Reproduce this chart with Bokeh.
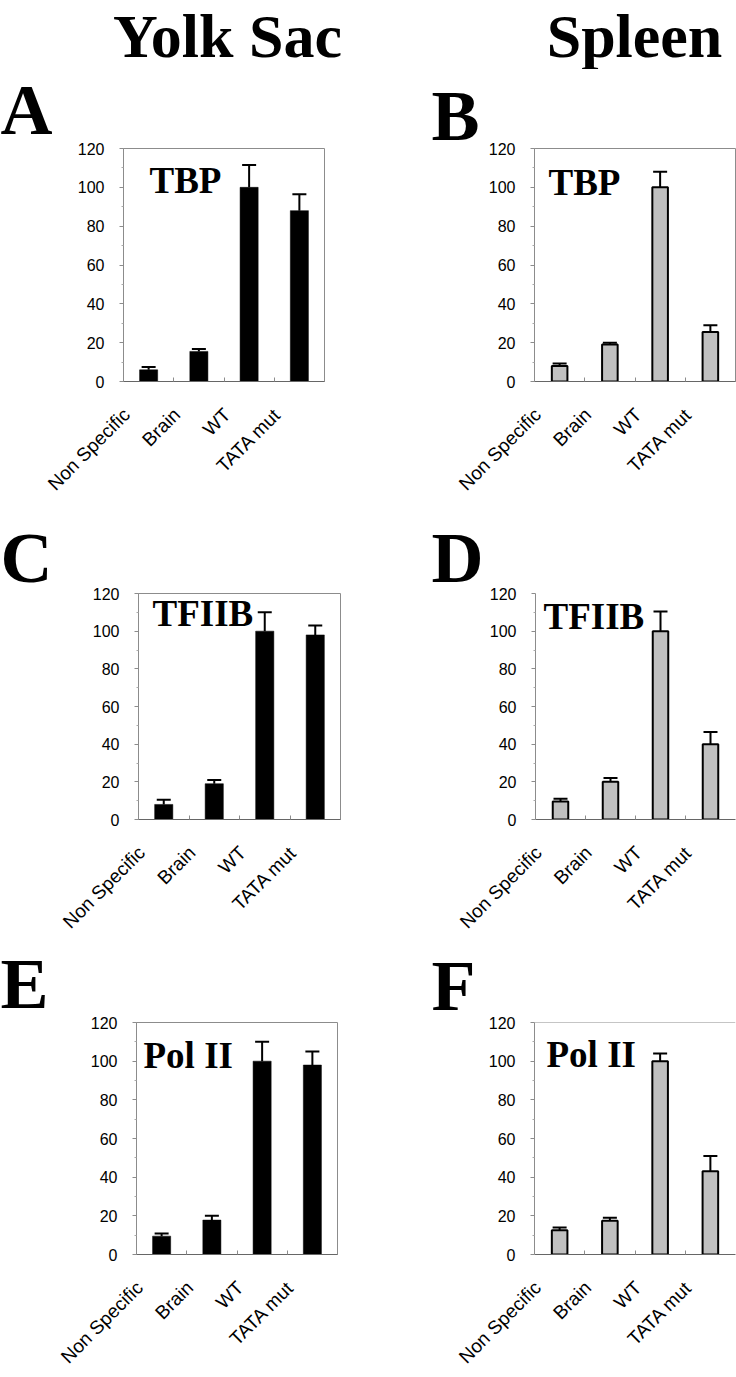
import math
from bokeh.plotting import figure
from bokeh.models import (ColumnDataSource, Range1d, Whisker, TeeHead, Label, Span, Title,
                          FixedTicker, CustomJSTickFormatter)
from bokeh.layouts import column, row
from bokeh.embed import file_html
from bokeh.resources import INLINE

# ---------------- data ----------------
categories = ["Non Specific", "Brain", "WT", "TATA mut"]
y_ticks = [0, 20, 40, 60, 80, 100, 120]

# Yolk Sac (black bars)
tbp_yolk = [6, 15.5, 100, 88]
tbp_yolk_err = [1.5, 1.2, 11.5, 8.5]
tfiib_yolk = [8, 19, 100, 98]
tfiib_yolk_err = [2.5, 2, 10, 5]
pol2_yolk = [9.5, 17.8, 100, 98]
pol2_yolk_err = [1.3, 2.2, 10, 7]

# Spleen (grey bars)
tbp_spleen = [8, 19, 100, 25.5]
tbp_spleen_err = [1.3, 1, 8, 3.5]
tfiib_spleen = [9.5, 20, 100, 40]
tfiib_spleen_err = [1.5, 2, 10.5, 6.5]
pol2_spleen = [12.5, 17.5, 100, 43]
pol2_spleen_err = [1.5, 1.5, 4, 8]

column_titles = ["Yolk Sac", "Spleen"]
factor_names = ["TBP", "TFIIB", "Pol II"]
panel_letters = ["A", "B", "C", "D", "E", "F"]

# ---------------- style / layout ----------------
SERIF = "Liberation Serif"
SANS = "Liberation Sans"
GREY = "#8c8c8c"
PAGE_W = 736
LABEL_SHIFT = 0.44   # rotated category labels end left of the bar centre
LABEL_STANDOFF = 30

# fw/fh frame size, bl/br/bt/bb borders, lt=(title offset, standoff) for the panel letter,
# title=(x, y) of the inner factor name (screen px from frame bottom-left)
geom = {
    "A": dict(fw=201, fh=236, bl=123, br=44, bt=79, bb=121, lt=(-123, -3), title=(26, 181), outline=True, top=False),
    "B": dict(fw=201, fh=239, bl=166, br=1, bt=73, bb=124, lt=(-103, -14), title=(14, 179), outline=True, top=False),
    "C": dict(fw=202, fh=237, bl=138, br=28, bt=88, bb=112, lt=(-138, -9), title=(14, 186), outline=True, top=False),
    "D": dict(fw=200, fh=238, bl=167, br=1, bt=84, bb=115, lt=(-104, -9), title=(8, 183), outline=False, top=False),
    "E": dict(fw=201, fh=236, bl=136, br=31, bt=80, bb=119, lt=(-136, -2), title=(7, 179), outline=True, top=False),
    "F": dict(fw=201, fh=239, bl=166, br=1, bt=77, bb=119, lt=(-103, -6), title=(12, 180), outline=False, top=True),
}


def make_panel(letter, name, vals, errs, spleen):
    g = geom[letter]
    n = len(categories)
    xs = [i + 0.5 for i in range(n)]
    p = figure(width=g["bl"] + g["fw"] + g["br"], height=g["bt"] + g["fh"] + g["bb"],
               x_range=Range1d(0, n), y_range=Range1d(y_ticks[0], y_ticks[-1]),
               output_backend="svg", toolbar_location=None, tools="",
               min_border_left=g["bl"], min_border_right=g["br"],
               min_border_top=g["bt"], min_border_bottom=g["bb"])
    off, stand = g["lt"]
    p.title = Title(text=letter, align="left", vertical_align="bottom", offset=off, standoff=stand,
                    text_font=SERIF, text_font_style="bold", text_font_size="72px",
                    text_color="black")
    p.xgrid.visible = False
    p.ygrid.visible = False
    p.background_fill_color = "white"
    p.border_fill_color = "white"
    p.outline_line_color = GREY if g["outline"] else None

    ya = p.yaxis[0]
    minor = [(a + b) / 2 for a, b in zip(y_ticks[:-1], y_ticks[1:])]
    ya.ticker = FixedTicker(ticks=y_ticks, minor_ticks=minor)
    ya.axis_line_color = GREY
    ya.major_tick_line_color = GREY
    ya.major_tick_out = 4
    ya.major_tick_in = 0
    ya.minor_tick_line_color = "#aaaaaa"
    ya.minor_tick_out = 2
    ya.minor_tick_in = 0
    ya.major_label_text_font = SANS
    ya.major_label_text_font_size = "16px"
    ya.major_label_text_color = "black"
    ya.major_label_standoff = 15

    xa = p.xaxis[0]
    xa.ticker = FixedTicker(ticks=[x - LABEL_SHIFT for x in xs], minor_ticks=list(range(1, n)))
    xa.formatter = CustomJSTickFormatter(args=dict(names=categories),
                                         code="return names[Math.floor(tick)] || '';")
    xa.axis_line_color = "#666666"
    xa.major_tick_line_color = None
    xa.major_tick_out = 0
    xa.major_tick_in = 0
    xa.minor_tick_line_color = GREY
    xa.minor_tick_in = 4
    xa.minor_tick_out = 0
    xa.major_label_orientation = math.pi / 4
    xa.major_label_standoff = LABEL_STANDOFF
    xa.major_label_text_font = SANS
    xa.major_label_text_font_size = "19px"
    xa.major_label_text_color = "black"

    src = ColumnDataSource(dict(
        x=xs, cat=categories, val=vals,
        hi=[v + e for v, e in zip(vals, errs)],
    ))

    if g["top"]:
        p.add_layout(Span(location=y_ticks[-1], dimension="width", line_color=GREY, line_width=1))

    if spleen:
        p.vbar(x="x", top="val", bottom=y_ticks[0], width=0.31, source=src,
               fill_color="#c0c0c0", line_color="black", line_width=2)
    else:
        p.vbar(x="x", top="val", bottom=y_ticks[0], width=0.36, source=src,
               fill_color="black", line_color="black", line_width=0.5)

    p.add_layout(Whisker(base="x", lower="val", upper="hi", source=src, dimension="height",
                         line_color="black", line_width=2, level="overlay",
                         lower_head=None,
                         upper_head=TeeHead(size=14, line_color="black", line_width=2)))

    tx, ty = g["title"]
    p.add_layout(Label(x=tx, y=ty, x_units="screen", y_units="screen", text=name,
                       text_font=SERIF, text_font_style="bold", text_font_size="37px",
                       text_align="left", text_baseline="bottom", text_color="black"))
    return p


# header strip: frame = whole canvas, 1 data unit = 1 px
HDR_H = 69
hdr = figure(width=PAGE_W, height=HDR_H, x_range=Range1d(0, PAGE_W), y_range=Range1d(0, HDR_H),
             x_axis_location=None, y_axis_location=None, output_backend="svg",
             toolbar_location=None, tools="", min_border=0)
hdr.xgrid.visible = False
hdr.ygrid.visible = False
hdr.outline_line_color = None
hdr.background_fill_color = "white"
hdr.border_fill_color = "white"
for txt, cx in zip(column_titles, [227, 634]):
    hdr.add_layout(Label(x=cx, y=0, text=txt, text_font=SERIF, text_font_style="bold",
                         text_font_size="62px", text_align="center", text_baseline="bottom",
                         text_color="black"))

pA = make_panel("A", factor_names[0], tbp_yolk, tbp_yolk_err, False)
pB = make_panel("B", factor_names[0], tbp_spleen, tbp_spleen_err, True)
pC = make_panel("C", factor_names[1], tfiib_yolk, tfiib_yolk_err, False)
pD = make_panel("D", factor_names[1], tfiib_spleen, tfiib_spleen_err, True)
pE = make_panel("E", factor_names[2], pol2_yolk, pol2_yolk_err, False)
pF = make_panel("F", factor_names[2], pol2_spleen, pol2_spleen_err, True)

layout = column(hdr, row(pA, pB), row(pC, pD), row(pE, pF))

open("out.html", "w").write(file_html(layout, INLINE))
